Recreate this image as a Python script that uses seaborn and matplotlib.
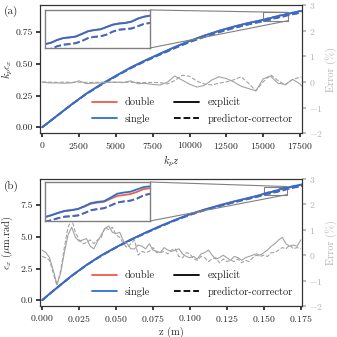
import numpy as np
import seaborn as sns
import matplotlib
matplotlib.use("Agg")
import matplotlib.pyplot as plt
from matplotlib import rcParams
from matplotlib.lines import Line2D
from mpl_toolkits.axes_grid1.inset_locator import mark_inset

# ---- panel (a): normalised emittance vs k_p z ----
kpz = [0, 1000, 2000, 3000, 4000, 5000, 6000, 7000, 8000, 9000, 10000, 11000,
       12000, 13000, 14000, 14500, 14800, 14900, 15000, 15100, 15200, 15300,
       15400, 15500, 15600, 15700, 15800, 15900, 16000, 16100, 16200, 16300,
       16400, 16500, 16600, 16700, 16800, 16900, 17000, 17100, 17200, 17300,
       17400, 17500, 17600]
a_double_exp = [0, 0.0902, 0.1803, 0.2652, 0.3383, 0.4052, 0.4701, 0.5272, 0.5801,
                0.6322, 0.6801, 0.7222, 0.7601, 0.7932, 0.8222, 0.8342, 0.8417, 0.8442,
                0.8466, 0.8492, 0.8540, 0.8572, 0.8582, 0.8598, 0.8645, 0.8688, 0.8709,
                0.8722, 0.8763, 0.8803, 0.8822, 0.8831, 0.8853, 0.8902, 0.8936, 0.8955,
                0.8967, 0.8992, 0.9031, 0.9052, 0.9072, 0.9097, 0.9131, 0.9147, 0.9166]
a_double_pc = [0, 0.0896, 0.1791, 0.2632, 0.3352, 0.4012, 0.4652, 0.5212, 0.5732,
               0.6242, 0.6712, 0.7122, 0.7492, 0.7822, 0.8112, 0.8237, 0.8307, 0.8332,
               0.8357, 0.8387, 0.8432, 0.8458, 0.8472, 0.8488, 0.8522, 0.8572, 0.8592,
               0.8600, 0.8632, 0.8682, 0.8713, 0.8727, 0.8738, 0.8772, 0.8811, 0.8829,
               0.8842, 0.8871, 0.8911, 0.8931, 0.8951, 0.8971, 0.9006, 0.9021, 0.9041]
a_single_exp = [0, 0.0900, 0.1800, 0.2650, 0.3380, 0.4050, 0.4700, 0.5270, 0.5800,
                0.6320, 0.6800, 0.7220, 0.7600, 0.7930, 0.8220, 0.8340, 0.8415, 0.8440,
                0.8465, 0.8490, 0.8537, 0.8570, 0.8580, 0.8595, 0.8640, 0.8686, 0.8706,
                0.8719, 0.8758, 0.8797, 0.8816, 0.8826, 0.8849, 0.8900, 0.8933, 0.8953,
                0.8965, 0.8990, 0.9030, 0.9050, 0.9070, 0.9095, 0.9130, 0.9145, 0.9165]
a_single_pc = [0, 0.0895, 0.1790, 0.2630, 0.3350, 0.4010, 0.4650, 0.5210, 0.5730,
               0.6240, 0.6710, 0.7120, 0.7490, 0.7820, 0.8110, 0.8235, 0.8305, 0.8330,
               0.8355, 0.8385, 0.8430, 0.8455, 0.8465, 0.8480, 0.8520, 0.8570, 0.8590,
               0.8598, 0.8630, 0.8680, 0.8712, 0.8720, 0.8730, 0.8770, 0.8810, 0.8828,
               0.8840, 0.8870, 0.8910, 0.8930, 0.8950, 0.8970, 0.9005, 0.9020, 0.9040]

kpz_err = list(range(0, 17501, 500)) + [17600]
a_err_exp = [-0.01, -0.04, -0.04, -0.05, -0.04, 0.04, -0.07, -0.05, -0.04, -0.01,
             -0.01, -0.03, 0.04, -0.07, -0.06, -0.10, -0.12, -0.01, 0.23, 0.07,
             -0.09, -0.20, -0.14, 0.07, 0.20, 0.13, 0.00, -0.17, -0.26, -0.35,
             0.12, 0.22, -0.05, -0.10, 0.10, -0.08, -0.16]
a_err_pc = [0.00, -0.01, -0.02, -0.01, -0.02, -0.01, -0.02, -0.02, -0.01, -0.02,
            -0.02, -0.01, -0.02, -0.02, -0.03, -0.02, -0.03, -0.08, 0.05, 0.26,
            0.22, 0.03, -0.08, -0.12, -0.05, 0.00, 0.08, 0.20, -0.05, -0.35,
            0.00, 0.28, 0.05, -0.12, 0.10, 0.18, 0.20]

# ---- panel (b): emittance in um.rad vs z ----
z = [0, 0.005, 0.01, 0.02, 0.03, 0.04, 0.05, 0.06, 0.07, 0.08, 0.09, 0.10, 0.11,
     0.12, 0.13, 0.14, 0.145, 0.146, 0.147, 0.148, 0.149, 0.150, 0.151, 0.152,
     0.153, 0.154, 0.155, 0.156, 0.157, 0.158, 0.159, 0.160, 0.161, 0.162, 0.163,
     0.164, 0.165, 0.166, 0.167, 0.168, 0.169, 0.170, 0.171, 0.172, 0.173, 0.174,
     0.175, 0.176]
b_double_exp = [0, 0.50, 0.98, 1.93, 2.78, 3.53, 4.18, 4.78, 5.33, 5.85, 6.33, 6.78,
                7.15, 7.48, 7.79, 8.07, 8.215, 8.245, 8.275, 8.31, 8.35, 8.392, 8.424,
                8.46, 8.49, 8.503, 8.522, 8.562, 8.61, 8.628, 8.64, 8.69, 8.735, 8.75,
                8.765, 8.80, 8.845, 8.86, 8.875, 8.90, 8.935, 8.965, 8.985, 9.00, 9.025,
                9.055, 9.08, 9.095]
b_double_pc = [0, 0.498, 0.975, 1.92, 2.765, 3.51, 4.155, 4.75, 5.295, 5.81, 6.29,
               6.73, 7.095, 7.42, 7.725, 8.00, 8.142, 8.172, 8.202, 8.237, 8.277,
               8.32, 8.346, 8.378, 8.402, 8.41, 8.422, 8.46, 8.50, 8.52, 8.535, 8.578,
               8.63, 8.648, 8.66, 8.692, 8.74, 8.768, 8.788, 8.812, 8.848, 8.878,
               8.898, 8.913, 8.938, 8.968, 8.992, 9.006]
b_single_exp = [0, 0.50, 0.98, 1.93, 2.78, 3.53, 4.18, 4.78, 5.33, 5.85, 6.33, 6.78,
                7.15, 7.48, 7.79, 8.07, 8.215, 8.245, 8.275, 8.31, 8.35, 8.393, 8.425,
                8.462, 8.494, 8.506, 8.525, 8.569, 8.62, 8.639, 8.651, 8.708, 8.771,
                8.79, 8.803, 8.84, 8.878, 8.891, 8.91, 8.935, 8.97, 9.00, 9.02, 9.035,
                9.06, 9.09, 9.115, 9.13]
b_single_pc = [0, 0.498, 0.975, 1.92, 2.765, 3.51, 4.155, 4.75, 5.295, 5.81, 6.29,
               6.73, 7.095, 7.42, 7.725, 8.00, 8.14, 8.17, 8.20, 8.235, 8.275, 8.317,
               8.343, 8.374, 8.399, 8.406, 8.418, 8.456, 8.506, 8.525, 8.538, 8.582,
               8.626, 8.645, 8.658, 8.689, 8.746, 8.771, 8.79, 8.815, 8.85, 8.88, 8.90,
               8.915, 8.94, 8.97, 8.995, 9.01]

z_err = np.round(np.linspace(0, 0.175, 71), 4)
b_err_exp = [0.2, 0.1, -0.1, -0.6, -1.15, -0.7, 0.1, 0.8, 1.1, 0.7,
             0.55, 0.6, 0.65, 0.35, 0.25, 0.55, 0.8, 1.05, 1.15, 0.9,
             0.85, 0.9, 0.55, 0.45, 0.25, 0.25, 0.4, 0.35, 0.25, 0.45,
             0.2, 0.15, 0.1, 0.3, 0.2, 0.15, 0.2, 0.25, 0.05, -0.05,
             -0.1, -0.05, -0.15, 0.05, 0.1, 0.2, 0.0, -0.15, -0.1, 0.0,
             -0.1, -0.2, -0.05, -0.1, -0.2, -0.1, -0.05, 0.0, 0.05, 0.0,
             0.1, 0.2, 0.35, 0.45, 0.6, 0.7, 0.45, 0.35, 0.4, 0.35, 0.6]
b_err_pc = [-0.05, -0.1, -0.2, -0.7, -1.2, -0.6, 0.3, 1.1, 1.4, 0.9,
            0.6, 0.45, 0.5, 0.6, 0.45, 0.6, 0.7, 1.1, 1.0, 1.1,
            0.8, 0.7, 0.45, 0.3, 0.45, 0.6, 0.0, 0.15, 0.1, 0.15,
            0.3, 0.1, 0.1, 0.15, 0.05, 0.2, 0.25, -0.05, -0.1, 0.1,
            0.05, -0.15, -0.2, -0.05, -0.1, -0.25, -0.15, -0.1, -0.3, -0.15,
            -0.25, -0.2, -0.25, -0.15, -0.3, -0.2, -0.25, -0.1, 0.0, -0.05,
            0.0, -0.05, 0.1, 0.1, 0.2, 0.3, 0.25, 0.4, 0.25, 0.3, 0.25]

RED = "#ef5d47"
BLUE = "#2b6fd3"
GREY = "#a3a3a3"
LABEL_GREY = "#b3b3b3"


def curves(ax, x, d_exp, d_pc, s_exp, s_pc, lw=1.3):
    sns.lineplot(x=x, y=d_exp, ax=ax, color=RED, linewidth=lw)
    sns.lineplot(x=x, y=d_pc, ax=ax, color=RED, linewidth=lw, linestyle="--")
    sns.lineplot(x=x, y=s_exp, ax=ax, color=BLUE, linewidth=lw)
    sns.lineplot(x=x, y=s_pc, ax=ax, color=BLUE, linewidth=lw, linestyle="--")


def panel(fig, rect, inset_rect, x, series, xe, err_exp, err_pc, xlim, ylim,
          ins_xlim, ins_ylim, xticks, yticks, xlabel, ylabel, yfmt):
    ax = fig.add_axes(rect)
    curves(ax, x, *series)
    ax.set_xlim(xlim)
    ax.set_ylim(ylim)
    ax.set_xticks(xticks)
    ax.set_yticks(yticks)
    ax.yaxis.set_major_formatter(matplotlib.ticker.FormatStrFormatter(yfmt))
    ax.set_xlabel(xlabel, labelpad=2)
    ax.set_ylabel(ylabel)
    ax.yaxis.set_label_coords(-0.095, 0.5)

    ax2 = ax.twinx()
    sns.lineplot(x=xe, y=err_exp, ax=ax2, color=GREY, linewidth=0.8)
    sns.lineplot(x=xe, y=err_pc, ax=ax2, color=GREY, linewidth=0.8, linestyle="--")
    ax2.set_ylim(-2, 3)
    ax2.set_yticks([-2, -1, 0, 1, 2, 3])
    ax2.set_ylabel("Error (%)", color=LABEL_GREY)
    ax2.yaxis.set_label_coords(1.088, 0.5)
    ax2.tick_params(axis="y", colors=LABEL_GREY)
    for s in ax2.spines.values():
        s.set_color("0.2")
        s.set_linewidth(0.8)

    handles = [Line2D([], [], color=RED, lw=1.3), Line2D([], [], color=BLUE, lw=1.3),
               Line2D([], [], color="black", lw=1.3),
               Line2D([], [], color="black", lw=1.3, ls="--")]
    labels = ["double", "single", "explicit", "predictor-corrector"]
    ax2.legend(handles, labels, ncol=2, frameon=False, loc="lower right",
               fontsize=7.5, handlelength=2.4, columnspacing=1.8,
               labelspacing=0.6, borderaxespad=0.5)

    axins = fig.add_axes(inset_rect)
    curves(axins, x, *series)
    axins.set_xlim(ins_xlim)
    axins.set_ylim(ins_ylim)
    axins.set_xticks([])
    axins.set_yticks([])
    axins.set_xlabel("")
    axins.set_ylabel("")
    for s in axins.spines.values():
        s.set_color("0.5")
        s.set_linewidth(1.0)
    mark_inset(ax, axins, loc1=1, loc2=4, fc="none", ec="0.5", lw=0.8)
    return ax


def make_image(output_path="out.png"):
    sns.set_theme(style="ticks")
    rcParams["font.family"] = "serif"
    rcParams["font.serif"] = ["cmr10", "DejaVu Serif"]
    rcParams["mathtext.fontset"] = "cm"
    rcParams["axes.formatter.use_mathtext"] = True
    rcParams["font.size"] = 7.5
    rcParams["xtick.labelsize"] = 7
    rcParams["ytick.labelsize"] = 7
    rcParams["axes.labelsize"] = 7.5
    rcParams["axes.linewidth"] = 0.8
    rcParams["axes.edgecolor"] = "0.2"
    rcParams["xtick.major.size"] = 3
    rcParams["ytick.major.size"] = 3
    rcParams["xtick.major.pad"] = 2
    rcParams["ytick.major.pad"] = 2

    fig = plt.figure(figsize=(3.37, 3.37), dpi=100)

    panel(fig, [0.119, 0.605, 0.777, 0.380], [0.1335, 0.8576, 0.3116, 0.1128],
          kpz, (a_double_exp, a_double_pc, a_single_exp, a_single_pc),
          kpz_err, a_err_exp, a_err_pc,
          (-140, 17630), (-0.046, 0.963), (15000, 16700), (0.840, 0.905),
          [0, 2500, 5000, 7500, 10000, 12500, 15000, 17500],
          [0.0, 0.25, 0.5, 0.75], r"$k_pz$", r"$k_p\epsilon_x$", "%.2f")

    panel(fig, [0.119, 0.092, 0.777, 0.377], [0.1335, 0.3442, 0.3116, 0.1157],
          z, (b_double_exp, b_double_pc, b_single_exp, b_single_pc),
          z_err, b_err_exp, b_err_pc,
          (-0.0014, 0.1758), (-0.455, 9.56), (0.150, 0.166), (8.33, 8.96),
          [0, 0.025, 0.05, 0.075, 0.1, 0.125, 0.15, 0.175],
          [0.0, 2.5, 5.0, 7.5], "z (m)", r"$\epsilon_x$ ($\mu$m.rad)", "%.1f")

    fig.text(0.012, 0.958, "(a)", fontsize=8)
    fig.text(0.012, 0.441, "(b)", fontsize=8)
    fig.savefig(output_path, dpi=100)
    plt.close(fig)


if __name__ == "__main__":
    make_image()
